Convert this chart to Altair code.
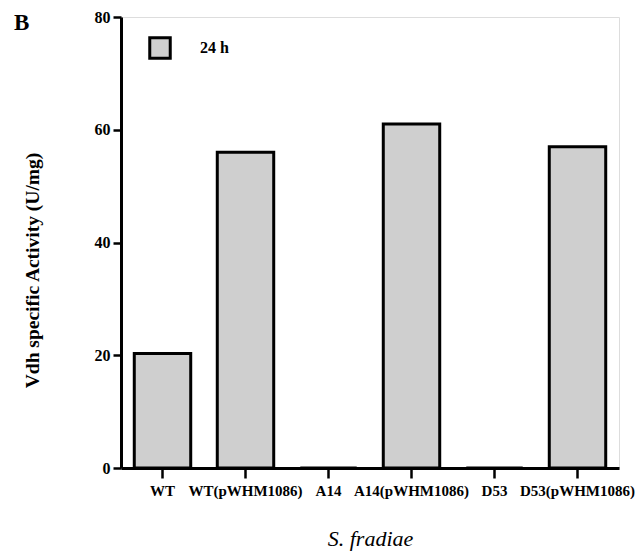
import altair as alt
import pandas as pd

strains = ["WT", "WT(pWHM1086)", "A14", "A14(pWHM1086)", "D53", "D53(pWHM1086)"]
activity = [20.3, 56.0, 0.0, 61.0, 0.0, 57.0]
series = ["24 h"] * len(strains)
panel = ["B"]

df = pd.DataFrame({"strain": strains, "activity": activity, "series": series})
df_panel = pd.DataFrame({"label": panel})

serif = "Liberation Serif"
fill = "#cfcfcf"

bars = alt.Chart(df).mark_bar(stroke="black", strokeWidth=3).encode(
    x=alt.X(
        "strain:N",
        sort=strains,
        scale=alt.Scale(paddingInner=0.32, paddingOuter=0.16),
        axis=alt.Axis(
            title="S. fradiae",
            titleFont=serif,
            titleFontStyle="italic",
            titleFontWeight="normal",
            titleFontSize=22,
            titlePadding=30,
            labelFont=serif,
            labelFontWeight="bold",
            labelFontSize=15,
            labelAngle=0,
            labelPadding=5,
            tickSize=10,
            tickWidth=2.5,
            tickColor="black",
            domainColor="black",
            domainWidth=3,
            labelColor="black",
            titleColor="black",
        ),
    ),
    y=alt.Y(
        "activity:Q",
        scale=alt.Scale(domain=[0, 80]),
        axis=alt.Axis(
            values=[0, 20, 40, 60, 80],
            title="Vdh specific Activity (U/mg)",
            titleFont=serif,
            titleFontWeight="bold",
            titleFontSize=19.5,
            titlePadding=52,
            titleY=253,
            labelFont=serif,
            labelFontWeight="bold",
            labelFontSize=16,
            labelPadding=3,
            tickSize=8,
            tickWidth=2.5,
            tickColor="black",
            domainColor="black",
            domainWidth=3,
            grid=False,
            labelColor="black",
            titleColor="black",
        ),
    ),
    color=alt.Color(
        "series:N",
        scale=alt.Scale(range=[fill]),
        legend=alt.Legend(
            title=None,
            orient="none",
            legendX=27,
            legendY=19,
            padding=0,
            symbolType="square",
            symbolSize=420,
            symbolStrokeColor="black",
            symbolStrokeWidth=3,
            symbolFillColor=fill,
            labelFont=serif,
            labelFontWeight="bold",
            labelFontSize=16,
            labelOffset=28,
            labelColor="black",
        ),
    ),
)

panel_label = alt.Chart(df_panel).mark_text(
    align="left",
    baseline="alphabetic",
    font=serif,
    fontWeight="bold",
    fontSize=23,
    color="black",
).encode(
    text="label:N",
    x=alt.value(-107),
    y=alt.value(13),
)

chart = alt.layer(bars, panel_label).properties(
    width=498,
    height=451,
    padding={"left": 121, "top": 17, "right": 19, "bottom": 84},
    autosize=alt.AutoSizeParams(type="none"),
).configure_view(
    stroke="black", strokeWidth=3
).configure(background="white")

chart.save("out.html", embed_options={"renderer": "svg", "actions": False})
